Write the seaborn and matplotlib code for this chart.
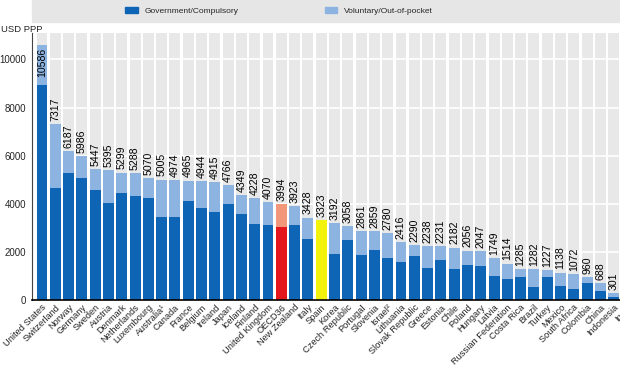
import matplotlib
matplotlib.use("Agg")
import matplotlib.pyplot as plt
from matplotlib.patches import Patch, Rectangle
from matplotlib import font_manager
import seaborn as sns
import pandas as pd

countries = ["United States", "Switzerland", "Norway", "Germany", "Sweden", "Austria",
             "Denmark", "Netherlands", "Luxembourg", "Australia\u00b9", "Canada", "France",
             "Belgium", "Ireland", "Japan", "Iceland", "Finland", "United Kingdom", "OECD36",
             "New Zealand", "Italy", "Spain", "Korea", "Czech Republic", "Portugal",
             "Slovenia", "Israel\u00b2", "Lithuania", "Slovak Republic", "Greece", "Estonia",
             "Chile", "Poland", "Hungary", "Latvia", "Russian Federation", "Costa Rica",
             "Brazil", "Turkey", "Mexico", "South Africa", "Colombia", "China", "Indonesia",
             "India"]
totals = [10586, 7317, 6187, 5986, 5447, 5395, 5299, 5288, 5070, 5005, 4974, 4965, 4944,
          4915, 4766, 4349, 4228, 4070, 3994, 3923, 3428, 3323, 3192, 3058, 2861, 2859,
          2780, 2416, 2290, 2238, 2231, 2182, 2056, 2047, 1749, 1514, 1285, 1282, 1227,
          1138, 1072, 960, 688, 301, 253]
government = [8950, 4650, 5280, 5070, 4560, 4030, 4460, 4330, 4250, 3460, 3460, 4130,
              3810, 3640, 3990, 3560, 3170, 3130, 3030, 3100, 2540, 2350, 1900, 2500,
              1890, 2080, 1760, 1600, 1830, 1330, 1670, 1280, 1460, 1420, 1000, 860,
              960, 530, 940, 570, 460, 690, 390, 140, 70]
labels_txt = [str(v) for v in totals]
legend_labels = ["Government/Compulsory", "Voluntary/Out-of-pocket"]
highlight = {"OECD36": ("#e3171b", "#f3977a"), "Spain": ("#f2f20a", "#f2f20a")}

DARK = "#0e64b5"
LIGHT = "#8db3e0"

sns.set_theme(style="white")
avail = {f.name for f in font_manager.fontManager.ttflist}
narrow = "Liberation Sans Narrow" if "Liberation Sans Narrow" in avail else "Liberation Sans"
plt.rcParams["font.family"] = ["Liberation Sans", "DejaVu Sans"]

df = pd.DataFrame({"country": countries, "total": totals, "gov": government})
light_pal = [highlight.get(c, (DARK, LIGHT))[1] for c in countries]
dark_pal = [highlight.get(c, (DARK, LIGHT))[0] for c in countries]

fig = plt.figure(figsize=(6.2, 3.68), dpi=100)
W, H = 620, 368
n = len(countries)
left_px, right_px, bottom_px, top_px = 32, 637, 300, 33
ax = fig.add_axes([left_px / W, 1 - bottom_px / H, (right_px - left_px) / W, (bottom_px - top_px) / H])
ax.set_facecolor("white")

for i in range(n):
    ax.axvspan(i - 0.41, i + 0.41, color="#e8e8e8", zorder=0, lw=0)
for y in range(2000, 12000, 2000):
    ax.axhline(y, color="white", lw=1.2, zorder=0.5)

sns.barplot(data=df, x="country", y="total", hue="country", palette=light_pal,
            legend=False, width=0.82, saturation=1, ax=ax, zorder=2, linewidth=0)
sns.barplot(data=df, x="country", y="gov", hue="country", palette=dark_pal,
            legend=False, width=0.82, saturation=1, ax=ax, zorder=3, linewidth=0)

ylim_top = 11100
for i, (v, t) in enumerate(zip(totals, labels_txt)):
    if v > 10000:
        ax.text(i, v - 100, t, rotation=90, ha="center", va="top", fontsize=7.6,
                color="black", zorder=5)
    else:
        ax.text(i, v + 130, t, rotation=90, ha="center", va="bottom", fontsize=7.6,
                color="black", zorder=5)

ax.set_xlim(-0.75, n - 0.25)
ax.set_ylim(0, ylim_top)
ax.set_yticks([0, 2000, 4000, 6000, 8000, 10000])
ax.set_yticklabels(["0", "2000", "4000", "6000", "8000", "10000"], fontsize=7)
ax.set_xticks(range(n))
ax.set_xticklabels(countries, rotation=45, ha="right", rotation_mode="anchor",
                   fontsize=6.7, family=[narrow, "DejaVu Sans"])
ax.tick_params(axis="x", length=0, pad=2)
ax.tick_params(axis="y", length=0, pad=4)
ax.set_xlabel("")
ax.set_ylabel("")
for s in ["top", "right"]:
    ax.spines[s].set_visible(False)
ax.spines["left"].set_color("#444444")
ax.spines["left"].set_linewidth(0.8)
ax.spines["bottom"].set_color("black")
ax.spines["bottom"].set_linewidth(1.2)
ax.spines["left"].set_zorder(6)
ax.spines["bottom"].set_zorder(6)

# legend band
fig.patches.append(Rectangle((32 / W, 1 - 22 / H), 1, 22 / H, transform=fig.transFigure,
                             color="#e6e6e6", zorder=0))
handles = [Patch(color=DARK), Patch(color=LIGHT)]
leg = fig.legend(handles, legend_labels, loc="center left", bbox_to_anchor=(118 / W, 1 - 11 / H),
                 ncol=2, frameon=False, columnspacing=10.3, handlelength=1.5, handleheight=0.6,
                 handletextpad=0.8, prop={"family": [narrow, "DejaVu Sans"], "size": 6.0})
fig.text(0.002, 1 - 29 / H, "USD PPP", fontsize=6.8, ha="left", va="center",
         family=[narrow, "DejaVu Sans"])

fig.savefig("out.png", dpi=100)
